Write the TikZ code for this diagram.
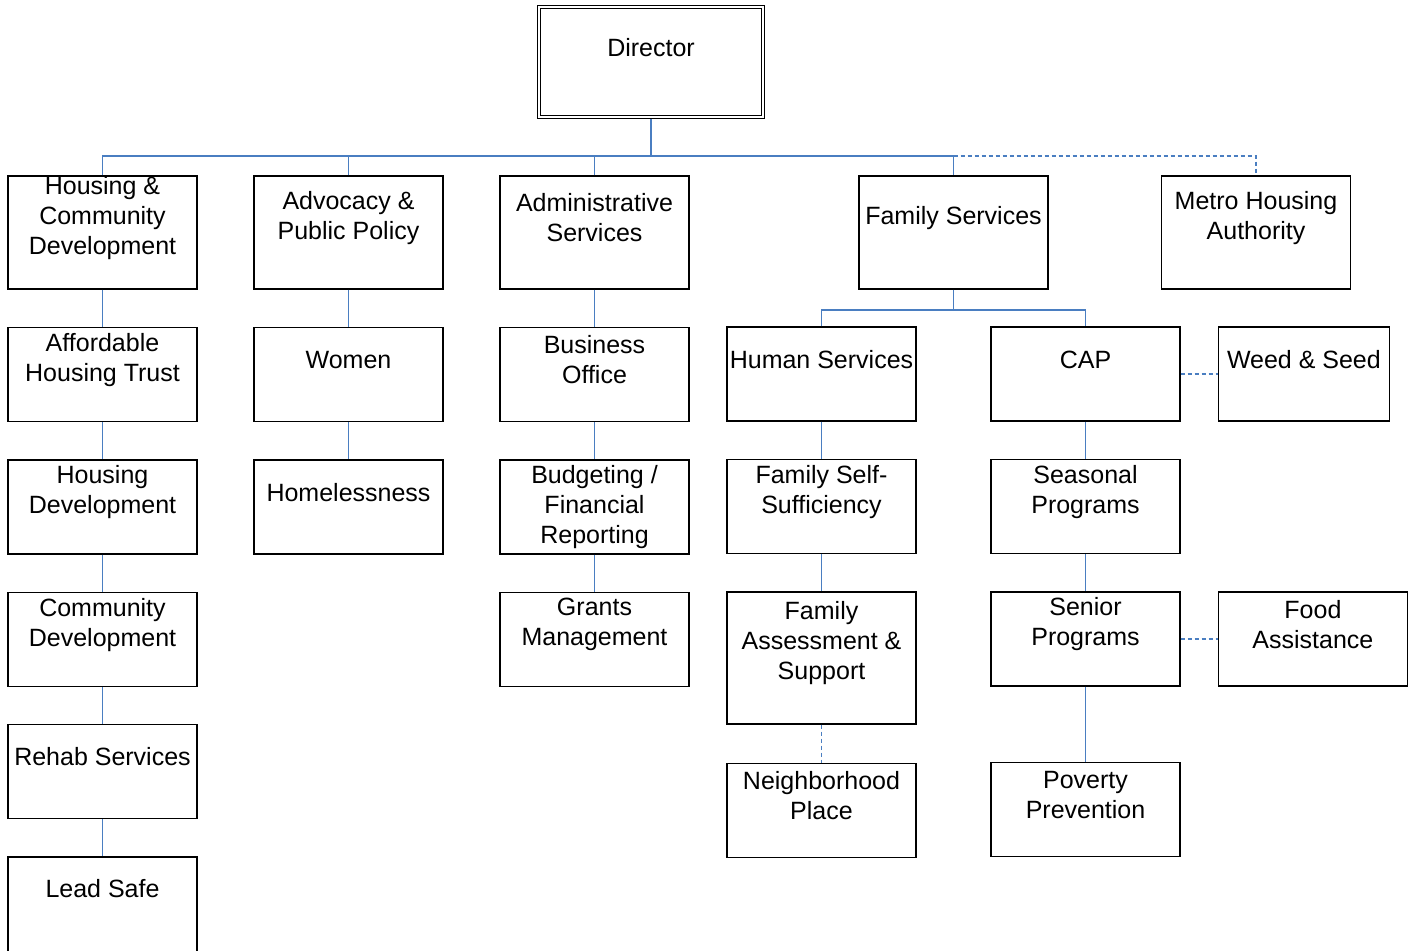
\documentclass[tikz,border=0pt]{standalone}
\usepackage{fontspec}
\setmainfont{Liberation Sans}
\usetikzlibrary{positioning}

\definecolor{linkblue}{RGB}{74,126,193}

\tikzset{
  unit/.style={draw, line width=0.7pt, minimum width=94.5pt, minimum height=47pt, inner sep=0pt},
  head/.style={unit, minimum height=56.5pt},
  lbl/.style={font=\fontsize{12.5pt}{15pt}\selectfont, align=center, inner sep=0pt, yshift=7.3pt},
  link/.style={draw=linkblue, line width=0.75pt},
  dotlink/.style={link, dash pattern=on 2pt off 1.5pt},
}

\begin{document}
\begin{tikzpicture}[x=0.5pt, y=-0.5pt, node distance=18.5pt]
  \useasboundingbox (0,0) rectangle (1416,950);

  % director
  \node[unit, double, double distance=1pt, line width=0.6pt, minimum width=112pt, minimum height=55pt,
        outer sep=1.1pt, label={[lbl]center:Director}] (dir) at (651,62) {};

  % first row
  \node[head, label={[lbl]center:Housing \&\\Community\\Development}] (hcd) at (102.5,232.5) {};
  \node[head, label={[lbl]center:Advocacy \&\\Public Policy}] (adv) at (348.5,232.5) {};
  \node[head, label={[lbl]center:Administrative\\Services}] (adm) at (594.5,232.5) {};
  \node[head, label={[lbl]center:Family Services}] (fam) at (953.5,232.5) {};
  \node[head, label={[lbl]center:Metro Housing\\Authority}] (metro) at (1256,232.5) {};

  % housing column
  \node[unit, below=of hcd, label={[lbl]center:Affordable\\Housing Trust}] (aht) {};
  \node[unit, below=of aht, label={[lbl]center:Housing\\Development}] (hdev) {};
  \node[unit, below=of hdev, label={[lbl]center:Community\\Development}] (cdev) {};
  \node[unit, below=of cdev, label={[lbl]center:Rehab Services}] (rehab) {};
  \node[unit, below=of rehab, minimum height=50pt, label={[lbl,yshift=1.8pt]center:Lead Safe}] (lead) {};

  % advocacy column
  \node[unit, below=of adv, label={[lbl]center:Women}] (women) {};
  \node[unit, below=of women, label={[lbl]center:Homelessness}] (home) {};

  % admin column
  \node[unit, below=of adm, label={[lbl]center:Business\\Office}] (bus) {};
  \node[unit, below=of bus, label={[lbl,yshift=-7.3pt]center:Budgeting /\\Financial\\Reporting}] (budg) {};
  \node[unit, below=of budg, label={[lbl]center:Grants\\Management}] (grants) {};

  % family services
  \node[unit, label={[lbl]center:Human Services}] (hum) at (821.5,374) {};
  \node[unit, label={[lbl]center:CAP}] (cap) at (1085.5,374) {};
  \node[unit, right=of cap, minimum width=85.5pt, label={[lbl]center:Weed \& Seed}] (weed) {};
  \node[unit, below=of hum, label={[lbl]center:Family Self-\\Sufficiency}] (fss) {};
  \node[unit, below=of fss, minimum height=66pt, label={[lbl]center:Family\\Assessment \&\\Support}] (fas) {};
  \node[unit, below=19pt of fas, label={[lbl]center:Neighborhood\\Place}] (nbhd) {};
  \node[unit, below=of cap, label={[lbl]center:Seasonal\\Programs}] (seas) {};
  \node[unit, below=of seas, label={[lbl]center:Senior\\Programs}] (senior) {};
  \node[unit, right=of senior, label={[lbl]center:Food\\Assistance}] (food) {};
  \node[unit, below=37.5pt of senior, label={[lbl]center:Poverty\\Prevention}] (pov) {};

  % connectors
  \coordinate (trunk) at (651,156);
  \coordinate (famsplit) at (953.5,310);
  \draw[link] (dir.south) -- (trunk);
  \draw[link] (hcd.north) |- (trunk) -| (fam.north);
  \draw[link] (adv.north) -- (adv.north |- trunk);
  \draw[link] (adm.north) -- (adm.north |- trunk);
  \draw[dotlink] (fam.north |- trunk) -| (metro.north);
  \draw[link] (fam.south) -- (famsplit);
  \draw[link] (hum.north) |- (famsplit) -| (cap.north);

  \foreach \a/\b in {hcd/aht, aht/hdev, hdev/cdev, cdev/rehab, rehab/lead,
                     adv/women, women/home, adm/bus, bus/budg, budg/grants,
                     hum/fss, fss/fas, cap/seas, seas/senior, senior/pov}
    \draw[link] (\a) -- (\b);

  \draw[dotlink] (fas) -- (nbhd);
  \draw[dotlink] (cap) -- (weed);
  \draw[dotlink] (senior) -- (food);
\end{tikzpicture}
\end{document}
